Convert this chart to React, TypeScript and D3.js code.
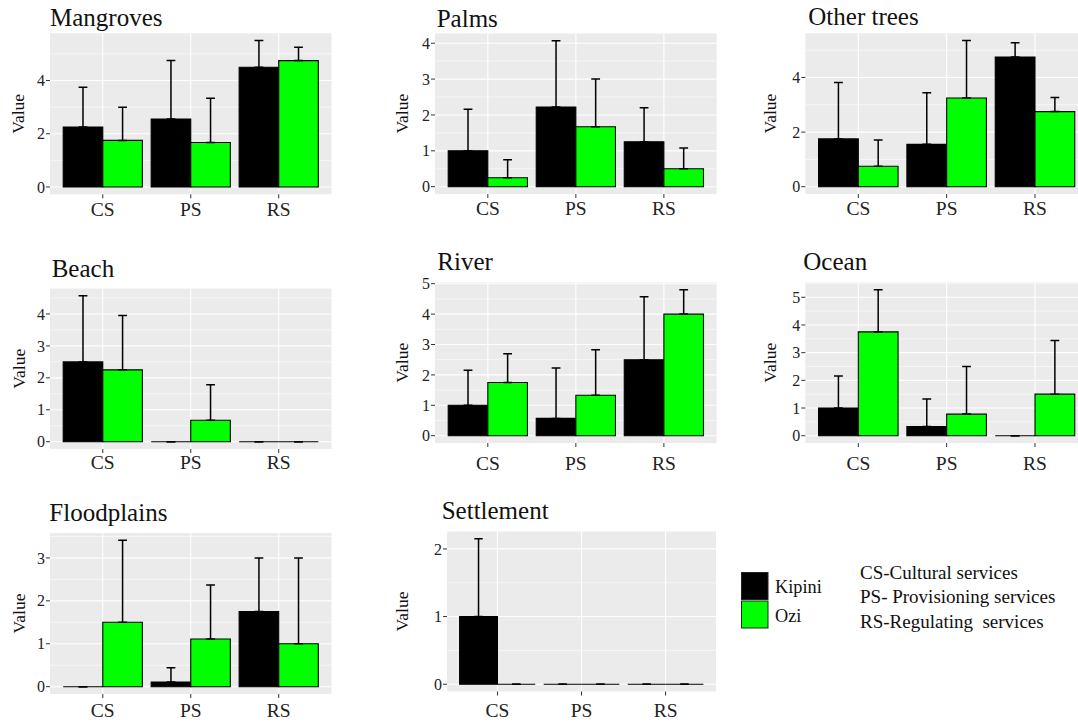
import React from "react";
import * as d3 from "d3";

const categories = ["CS", "PS", "RS"];
const habitats = ["Mangroves", "Palms", "Other trees", "Beach", "River", "Ocean", "Floodplains", "Settlement"];
const kipiniMean = [[2.25, 2.55, 4.5], [1.0, 2.22, 1.25], [1.75, 1.55, 4.75], [2.5, 0, 0], [1.0, 0.57, 2.5], [1.0, 0.33, 0], [0, 0.11, 1.75], [1.0, 0, 0]];
const kipiniUpper = [[3.75, 4.75, 5.5], [2.16, 4.07, 2.2], [3.82, 3.44, 5.27], [4.57, 0, 0], [2.15, 2.23, 4.57], [2.16, 1.33, 0], [0, 0.44, 3.0], [2.15, 0, 0]];
const oziMean = [[1.75, 1.67, 4.75], [0.25, 1.67, 0.5], [0.75, 3.25, 2.75], [2.25, 0.67, 0], [1.75, 1.33, 4.0], [3.75, 0.78, 1.5], [1.5, 1.11, 1.0], [0, 0, 0]];
const oziUpper = [[3.0, 3.33, 5.25], [0.75, 3.0, 1.08], [1.71, 5.35, 3.27], [3.95, 1.78, 0], [2.7, 2.83, 4.8], [5.27, 2.5, 3.44], [3.41, 2.37, 3.0], [0, 0, 0]];
const yTicks = [[0, 2, 4], [0, 1, 2, 3, 4], [0, 2, 4], [0, 1, 2, 3, 4], [0, 1, 2, 3, 4, 5], [0, 1, 2, 3, 4, 5], [0, 1, 2, 3], [0, 1, 2]];
const seriesNames = ["Kipini", "Ozi"];
const seriesColors = ["#000000", "#00FF00"];
const notes = ["CS-Cultural services", "PS- Provisioning services", "RS-Regulating  services"];

// layout (pixels) per panel: bg left, right, top, bottom, title x, title baseline, "Value" x, x-label baseline
const layout = [
  { L: 50, R: 331.5, T: 33.3, B: 194.3, tx: 50, ty: 26, vx: 18.3, xl: 216 },
  { L: 435, R: 716.7, T: 33.4, B: 194, tx: 436.7, ty: 26.7, vx: 401.7, xl: 215 },
  { L: 805.3, R: 1088, T: 33.3, B: 194, tx: 808.3, ty: 25, vx: 770, xl: 215 },
  { L: 50, R: 331.5, T: 288.5, B: 449, tx: 51.7, ty: 276.7, vx: 19, xl: 469.3 },
  { L: 435, R: 716.7, T: 282.5, B: 443, tx: 437.3, ty: 270, vx: 401.7, xl: 470 },
  { L: 805.3, R: 1088, T: 282.5, B: 443, tx: 803.3, ty: 270, vx: 770, xl: 470 },
  { L: 50, R: 331.5, T: 533, B: 694, tx: 49.3, ty: 520.7, vx: 19, xl: 716.7 },
  { L: 447, R: 716, T: 531.5, B: 691.5, tx: 441.7, ty: 519.3, vx: 401.7, xl: 716.7 },
];

const FONT = "Liberation Serif";

function Panel({ idx }: { idx: number }) {
  const lay = layout[idx];
  const means = [kipiniMean[idx], oziMean[idx]];
  const uppers = [kipiniUpper[idx], oziUpper[idx]];
  const M = d3.max([...uppers[0], ...uppers[1], ...means[0], ...means[1]]) as number;
  const y = d3.scaleLinear().domain([-0.05 * M, M * 1.05]).range([lay.B, lay.T]);
  const x = d3.scaleLinear().domain([0.4, categories.length + 0.6]).range([lay.L, lay.R]);
  const ticks = yTicks[idx];
  const step = ticks[1] - ticks[0];
  const minor: number[] = [];
  for (let i = 0; i < ticks.length - 1; i++) minor.push((ticks[i] + ticks[i + 1]) / 2);
  if (ticks[ticks.length - 1] + step / 2 <= y.domain()[1]) minor.push(ticks[ticks.length - 1] + step / 2);
  const barW = 0.45;
  const capW = 0.1;
  const clipId = `clip${idx}`;
  return (
    <g>
      <defs>
        <clipPath id={clipId}>
          <rect x={lay.L} y={lay.T} width={lay.R - lay.L} height={lay.B - lay.T} />
        </clipPath>
      </defs>
      <rect x={lay.L} y={lay.T} width={lay.R - lay.L} height={lay.B - lay.T} fill="#EBEBEB" />
      {minor.map((t) => (
        <line key={"mn" + t} x1={lay.L} x2={lay.R} y1={y(t)} y2={y(t)} stroke="#fff" strokeWidth={0.55} />
      ))}
      {ticks.map((t) => (
        <line key={"mj" + t} x1={lay.L} x2={lay.R} y1={y(t)} y2={y(t)} stroke="#fff" strokeWidth={1.1} />
      ))}
      {categories.map((c, i) => (
        <line key={"vx" + c} x1={x(i + 1)} x2={x(i + 1)} y1={lay.T} y2={lay.B} stroke="#fff" strokeWidth={1.1} />
      ))}
      <g clipPath={`url(#${clipId})`}>
        {categories.map((c, i) =>
          [0, 1].map((s) => {
            const x0 = x(i + 1 - barW + s * barW);
            const x1 = x(i + 1 + s * barW);
            const v = means[s][i];
            const p = d3.path();
            p.moveTo(x0, y(0));
            p.lineTo(x0, y(v));
            p.lineTo(x1, y(v));
            p.lineTo(x1, y(0));
            p.closePath();
            return (
              <path
                key={c + s}
                d={p.toString()}
                fill={seriesColors[s]}
                stroke="#000"
                strokeWidth={1.1}
              />
            );
          })
        )}
        {categories.map((c, i) =>
          [0, 1].map((s) => {
            const cx = x(i + 1 - barW / 2 + s * barW);
            const v = means[s][i];
            const u = uppers[s][i];
            return (
              <g key={"e" + c + s} stroke="#000" strokeWidth={1.5}>
                <line x1={cx} x2={cx} y1={y(v)} y2={y(u)} />
                <line x1={x(i + 1 - barW / 2 + s * barW - capW / 2)} x2={x(i + 1 - barW / 2 + s * barW + capW / 2)} y1={y(u)} y2={y(u)} />
                <line x1={x(i + 1 - barW / 2 + s * barW - capW / 2)} x2={x(i + 1 - barW / 2 + s * barW + capW / 2)} y1={y(v)} y2={y(v)} />
              </g>
            );
          })
        )}
      </g>
      {ticks.map((t) => (
        <g key={"yt" + t}>
          <line x1={lay.L - 4} x2={lay.L} y1={y(t)} y2={y(t)} stroke="#333" strokeWidth={1} />
          <text x={lay.L - 5} y={y(t)} dy="0.35em" textAnchor="end" fontSize={16} fill="#222" fontFamily={FONT}>
            {t}
          </text>
        </g>
      ))}
      {categories.map((c, i) => (
        <g key={"xt" + c}>
          <line x1={x(i + 1)} x2={x(i + 1)} y1={lay.B} y2={lay.B + 4} stroke="#333" strokeWidth={1} />
          <text x={x(i + 1)} y={lay.xl} textAnchor="middle" fontSize={19.5} fill="#222" fontFamily={FONT}>
            {c}
          </text>
        </g>
      ))}
      <text
        transform={`translate(${lay.vx},${(lay.T + lay.B) / 2}) rotate(-90)`}
        dy="0.35em"
        textAnchor="middle"
        fontSize={17.5}
        fill="#111"
        fontFamily={FONT}
      >
        Value
      </text>
      <text x={lay.tx} y={lay.ty} fontSize={25} fill="#111" fontFamily={FONT}>
        {habitats[idx]}
      </text>
    </g>
  );
}

export default function App() {
  return (
    <svg
      width={1078}
      height={725}
      style={{ position: "absolute", left: 0, top: 0, background: "#fff" }}
    >
      <rect x={0} y={0} width={1078} height={725} fill="#fff" />
      {habitats.map((h, i) => (
        <Panel key={h} idx={i} />
      ))}
      {seriesNames.map((n, i) => (
        <g key={n}>
          <rect x={741.5} y={572.5 + i * 28.5} width={26.5} height={27} fill={seriesColors[i]} stroke="#222" strokeWidth={1} />
          <text x={775} y={593 + i * 28.5} fontSize={18.3} fill="#111" fontFamily={FONT}>
            {n}
          </text>
        </g>
      ))}
      {notes.map((t, i) => (
        <text key={t} x={860} y={578.5 + i * 24.5} fontSize={19} fill="#111" fontFamily={FONT} style={{ whiteSpace: "pre" }}>
          {t}
        </text>
      ))}
    </svg>
  );
}
